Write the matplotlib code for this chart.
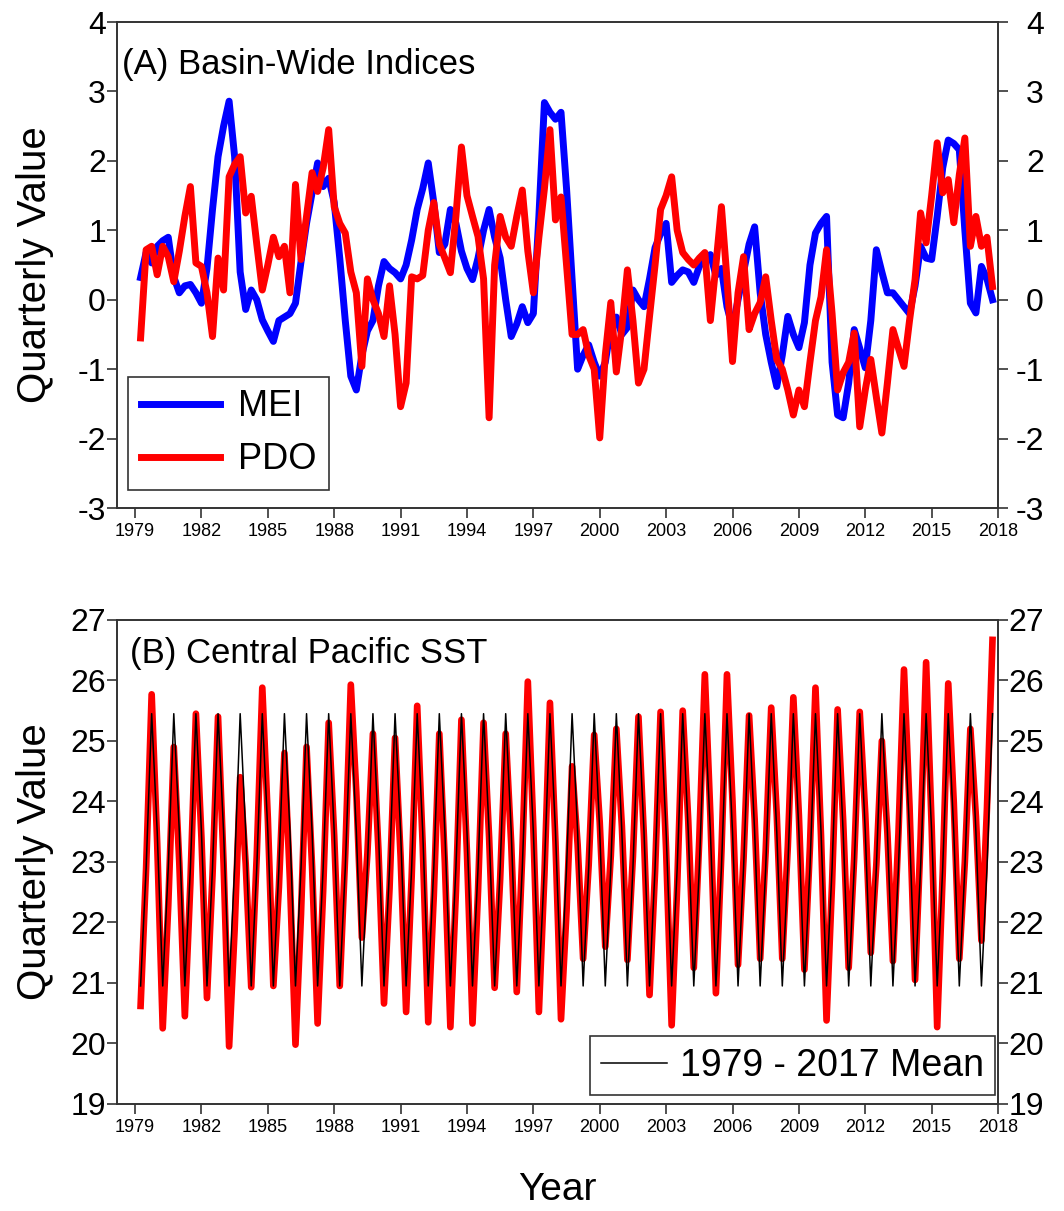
import numpy as np
import matplotlib
matplotlib.use("Agg")
import matplotlib.pyplot as plt

# Quarterly values, one row per year (Q1..Q4), series end at 2017 Q3
first_year = 1979

mei_rows = [
    [0.32, 0.68, 0.53, 0.77],    # 1979
    [0.85, 0.90, 0.33, 0.10],
    [0.20, 0.22, 0.10, -0.05],
    [0.45, 1.30, 2.06, 2.50],
    [2.86, 2.06, 0.40, -0.14],
    [0.14, 0.00, -0.29, -0.45],
    [-0.60, -0.30, -0.25, -0.20],
    [-0.05, 0.55, 1.10, 1.54],
    [1.97, 1.63, 1.75, 1.40],
    [0.60, -0.30, -1.10, -1.30],
    [-0.80, -0.45, -0.30, 0.20],  # 1989
    [0.55, 0.45, 0.39, 0.30],
    [0.50, 0.86, 1.30, 1.60],
    [1.97, 1.40, 0.68, 0.80],
    [1.30, 1.10, 0.70, 0.45],
    [0.29, 0.60, 1.00, 1.30],
    [0.90, 0.60, 0.00, -0.53],
    [-0.35, -0.10, -0.33, -0.20],
    [1.20, 2.84, 2.70, 2.60],
    [2.70, 1.60, 0.30, -1.00],
    [-0.80, -0.65, -0.90, -1.10],  # 1999
    [-0.90, -0.40, -0.25, -0.50],
    [-0.40, 0.14, 0.00, -0.10],
    [0.30, 0.75, 0.95, 1.10],
    [0.25, 0.35, 0.43, 0.40],
    [0.25, 0.48, 0.60, 0.65],
    [0.35, 0.45, -0.10, -0.40],
    [0.00, 0.40, 0.80, 1.05],
    [0.10, -0.50, -0.90, -1.25],
    [-0.80, -0.24, -0.50, -0.69],
    [-0.33, 0.50, 0.96, 1.10],  # 2009
    [1.20, -0.90, -1.66, -1.70],
    [-1.20, -0.43, -0.70, -0.98],
    [-0.30, 0.72, 0.40, 0.10],
    [0.10, 0.00, -0.10, -0.20],
    [0.20, 0.77, 0.60, 0.58],
    [1.20, 1.90, 2.30, 2.25],
    [2.16, 1.00, -0.05, -0.19],
    [0.48, 0.30, 0.00],          # 2017
]

pdo_rows = [
    [-0.55, 0.72, 0.77, 0.36],   # 1979
    [0.77, 0.62, 0.26, 0.70],
    [1.20, 1.63, 0.53, 0.48],
    [0.10, -0.53, 0.60, 0.14],
    [1.77, 1.95, 2.06, 1.25],
    [1.49, 0.80, 0.14, 0.50],
    [0.90, 0.62, 0.77, 0.10],
    [1.66, 0.58, 1.20, 1.83],
    [1.56, 1.90, 2.45, 1.34],
    [1.10, 0.96, 0.40, 0.10],
    [-0.96, 0.30, 0.00, -0.20],  # 1989
    [-0.53, 0.20, -0.50, -1.54],
    [-1.20, 0.33, 0.30, 0.35],
    [1.00, 1.40, 0.80, 0.60],
    [0.39, 1.20, 2.20, 1.50],
    [1.20, 0.91, 0.30, -1.70],
    [0.50, 1.20, 0.90, 0.77],
    [1.20, 1.58, 0.70, 0.10],
    [0.90, 1.60, 2.45, 1.15],
    [1.48, 0.50, -0.50, -0.50],
    [-0.43, -0.80, -1.00, -1.99],  # 1999
    [-0.80, -0.04, -1.04, -0.40],
    [0.43, -0.30, -1.20, -1.00],
    [-0.24, 0.50, 1.30, 1.50],
    [1.77, 1.00, 0.68, 0.58],
    [0.50, 0.60, 0.68, -0.30],
    [0.50, 1.34, 0.30, -0.89],
    [0.10, 0.62, -0.43, -0.20],
    [-0.04, 0.33, -0.30, -0.86],
    [-1.00, -1.30, -1.66, -1.30],
    [-1.54, -0.90, -0.30, 0.04],  # 2009
    [0.72, -0.20, -1.30, -1.05],
    [-0.90, -0.48, -1.83, -1.30],
    [-0.86, -1.40, -1.92, -1.20],
    [-0.43, -0.70, -0.96, -0.30],
    [0.29, 1.25, 0.82, 1.50],
    [2.26, 1.54, 1.73, 1.11],
    [1.80, 2.33, 0.77, 1.20],
    [0.77, 0.90, 0.19],          # 2017
]

sst_rows = [
    [20.62, 22.90, 25.77, 23.31],  # 1979
    [20.25, 22.28, 24.90, 22.98],
    [20.45, 22.65, 25.45, 23.40],
    [20.75, 22.78, 25.40, 22.98],
    [19.95, 21.88, 24.40, 22.97],
    [20.93, 23.11, 25.88, 23.72],
    [20.95, 22.58, 24.80, 22.69],
    [19.98, 22.14, 24.90, 22.92],
    [20.33, 22.52, 25.30, 23.43],
    [20.95, 23.14, 25.93, 24.14],
    [21.75, 23.14, 25.12, 23.19],  # 1989
    [20.66, 22.56, 25.05, 23.09],
    [20.52, 22.75, 25.58, 23.27],
    [20.35, 22.44, 25.12, 22.99],
    [20.27, 22.51, 25.35, 23.14],
    [20.33, 22.52, 25.30, 23.41],
    [20.92, 22.72, 25.12, 23.29],
    [20.85, 23.12, 25.98, 23.55],
    [20.52, 22.78, 25.63, 23.32],
    [20.40, 22.19, 24.58, 23.29],
    [21.40, 22.95, 25.10, 23.65],  # 1999
    [21.60, 23.10, 25.20, 23.59],
    [21.38, 23.09, 25.40, 23.40],
    [20.80, 22.84, 25.48, 23.19],
    [20.30, 22.60, 25.50, 23.68],
    [21.25, 23.38, 26.10, 23.77],
    [20.83, 23.17, 26.10, 24.00],
    [21.30, 23.06, 25.42, 23.71],
    [21.40, 23.18, 25.55, 23.78],
    [21.40, 23.26, 25.72, 23.77],
    [21.22, 23.25, 25.88, 23.43],  # 2009
    [20.38, 22.65, 25.52, 23.69],
    [21.25, 23.07, 25.48, 23.79],
    [21.50, 22.95, 25.00, 23.48],
    [21.36, 23.47, 26.18, 23.92],
    [21.05, 23.38, 26.30, 23.59],
    [20.27, 22.81, 25.95, 23.98],
    [21.40, 23.00, 25.20, 23.75],
    [21.70, 23.89, 26.67],         # 2017
]

# 1979-2017 quarterly climatology (Q1..Q4)
sst_mean_quarters = [20.95, 22.90, 25.45, 23.50]

year_ticks = list(range(1979, 2019, 3))
top_yticks = [-3, -2, -1, 0, 1, 2, 3, 4]
bottom_yticks = [19, 20, 21, 22, 23, 24, 25, 26, 27]

SPINE = "#333333"


def flatten(rows):
    return np.array([v for row in rows for v in row])


def quarter_times(n):
    # each quarter plotted at its end: Y+0.25, Y+0.5, Y+0.75, Y+1
    return first_year + 0.25 * (np.arange(n) + 1)


def style_axis(ax, yticks, ylim):
    ax.set_xlim(first_year - 18 / 22.1, 2018)
    ax.set_ylim(*ylim)
    ax.set_xticks(year_ticks)
    ax.set_xticklabels([str(y) for y in year_ticks], fontsize=13)
    ax.set_yticks(yticks)
    ax.set_yticklabels([str(v) for v in yticks], fontsize=23)
    ax.tick_params(axis="both", direction="out", length=7, width=1.2, color=SPINE)
    ax.tick_params(axis="y", pad=1)
    ax.tick_params(axis="x", pad=4)
    for sp in ax.spines.values():
        sp.set_color(SPINE)
        sp.set_linewidth(1.4)
    ax.set_ylabel("Quarterly Value", fontsize=29)
    ax.yaxis.set_label_coords(-0.072, 0.5)

    # right-hand axis: same ticks, labels right-aligned like the original
    axr = ax.twinx()
    axr.set_ylim(*ylim)
    axr.set_yticks(yticks)
    axr.set_yticklabels([str(v) for v in yticks], fontsize=23, ha="right")
    axr.tick_params(axis="y", direction="out", length=7, width=1.2, color=SPINE, pad=26)
    for sp in axr.spines.values():
        sp.set_visible(False)
    return axr


def main():
    plt.rcParams["font.family"] = ["Liberation Sans", "DejaVu Sans"]
    plt.rcParams["axes.unicode_minus"] = False

    mei = flatten(mei_rows)
    pdo = flatten(pdo_rows)
    sst = flatten(sst_rows)
    sst_mean = np.tile(sst_mean_quarters, len(sst_rows))[:len(sst)]

    fig = plt.figure(figsize=(10.64, 12.11), dpi=100)

    # --- Panel A: basin-wide indices ---
    ax1 = fig.add_axes([0.110, 0.5805, 0.828, 0.4013])
    ax1.plot(quarter_times(len(mei)), mei, color="#0000ff", lw=5, label="MEI",
             solid_joinstyle="round", zorder=3)
    ax1.plot(quarter_times(len(pdo)), pdo, color="#ff0000", lw=5, label="PDO",
             solid_joinstyle="round", zorder=4)
    style_axis(ax1, top_yticks, (-3, 4))
    ax1.text(0.006, 0.912, "(A) Basin-Wide Indices", transform=ax1.transAxes,
             fontsize=25, va="center", ha="left")
    leg1 = ax1.legend(loc="lower left", bbox_to_anchor=(0.0125, 0.037), fontsize=26,
                      frameon=True, fancybox=False, edgecolor="black",
                      handlelength=2.2, handletextpad=0.5, labelspacing=0.5,
                      borderpad=0.35, borderaxespad=0)
    leg1.get_frame().set_linewidth(1.2)

    # --- Panel B: central Pacific SST ---
    ax2 = fig.add_axes([0.110, 0.0884, 0.828, 0.3997])
    ax2.plot(quarter_times(len(sst)), sst, color="#ff0000", lw=4.8,
             solid_joinstyle="round", zorder=3)
    ax2.plot(quarter_times(len(sst_mean)), sst_mean, color="black", lw=1.1,
             label="1979 - 2017 Mean", zorder=4)
    style_axis(ax2, bottom_yticks, (19, 27))
    ax2.text(0.015, 0.93, "(B) Central Pacific SST", transform=ax2.transAxes,
             fontsize=25, va="center", ha="left")
    ax2.set_xlabel("Year", fontsize=28, labelpad=26)
    leg2 = ax2.legend(loc="lower right", bbox_to_anchor=(0.9966, 0.0186), fontsize=27,
                      frameon=True, fancybox=False, edgecolor="black",
                      handlelength=1.75, handletextpad=0.35, borderpad=0.3,
                      borderaxespad=0)
    leg2.get_frame().set_linewidth(1.2)

    fig.savefig("out.png", dpi=100)
    plt.close(fig)


if __name__ == "__main__":
    main()
